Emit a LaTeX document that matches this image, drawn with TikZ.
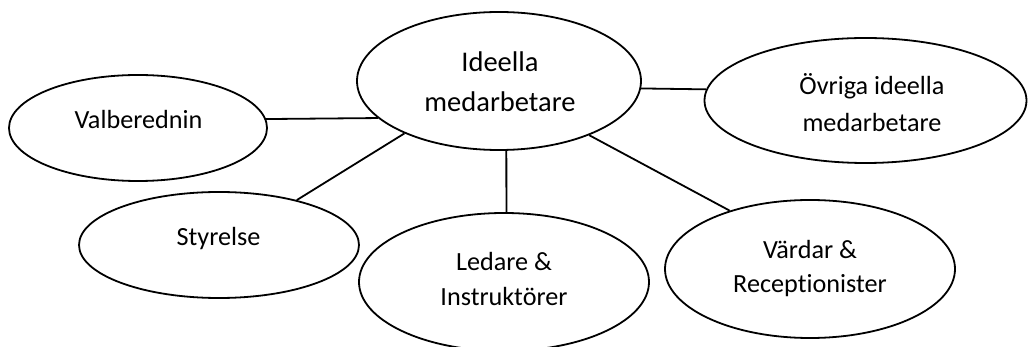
\documentclass[tikz,border=0pt]{standalone}
\usepackage{fontspec}
\setmainfont{Carlito}[Ligatures={NoCommon,NoRequired}]
\usetikzlibrary{shapes.geometric}
\begin{document}
\begin{tikzpicture}[x=1pt,y=-1pt,
  blob/.style={draw=black, line width=1.8pt, ellipse, inner sep=0pt},
  conn/.style={draw=black, line width=1.8pt},
  txt/.style={anchor=base, inner sep=0pt, font=\fontsize{26.2}{30}\selectfont},
  bigtxt/.style={anchor=base, inner sep=0pt, font=\fontsize{28.5}{32}\selectfont}]
\useasboundingbox (0,0) rectangle (1029,347);
% ellipses
\node[blob, minimum width=284pt, minimum height=138pt] (ideella) at (499,81) {};
\node[blob, minimum width=258pt, minimum height=106pt] (valb) at (138,128) {};
\node[blob, minimum width=280pt, minimum height=106pt] (styr) at (219,245) {};
\node[blob, minimum width=290pt, minimum height=138pt] (ledare) at (504,282) {};
\node[blob, minimum width=322pt, minimum height=125pt] (ovriga) at (865.5,100.5) {};
\node[blob, minimum width=290pt, minimum height=138pt] (vardar) at (810,269) {};
% texts
\node[bigtxt] (ideella-a) at (500,72) {Ideella};
\node[bigtxt] (ideella-b) at (500,112) {medarbetare};
\node[txt] (valb-a) at (138.5,129) {Valberednin};
\node[txt] (styr-a) at (218.5,246) {Styrelse};
\node[txt] (ovriga-a) at (872,95) {Övriga ideella};
\node[txt] (ovriga-b) at (872,132) {medarbetare};
\node[txt] (ledare-a) at (504,271) {Ledare \&};
\node[txt] (ledare-b) at (504,306) {Instruktörer};
\node[txt] (vardar-a) at (810,259) {Värdar \&};
\node[txt] (vardar-b) at (810,293) {Receptionister};
% connectors
\draw[conn] (valb.4.5) -- (ideella.197);
\draw[conn] (ideella.357) -- (ovriga.176);
\draw[conn] (styr.30) -- (ideella.209);
\draw[conn] (ideella.276) -- (ledare.88);
\draw[conn] (ideella.329) -- (vardar.144);
\end{tikzpicture}
\end{document}
